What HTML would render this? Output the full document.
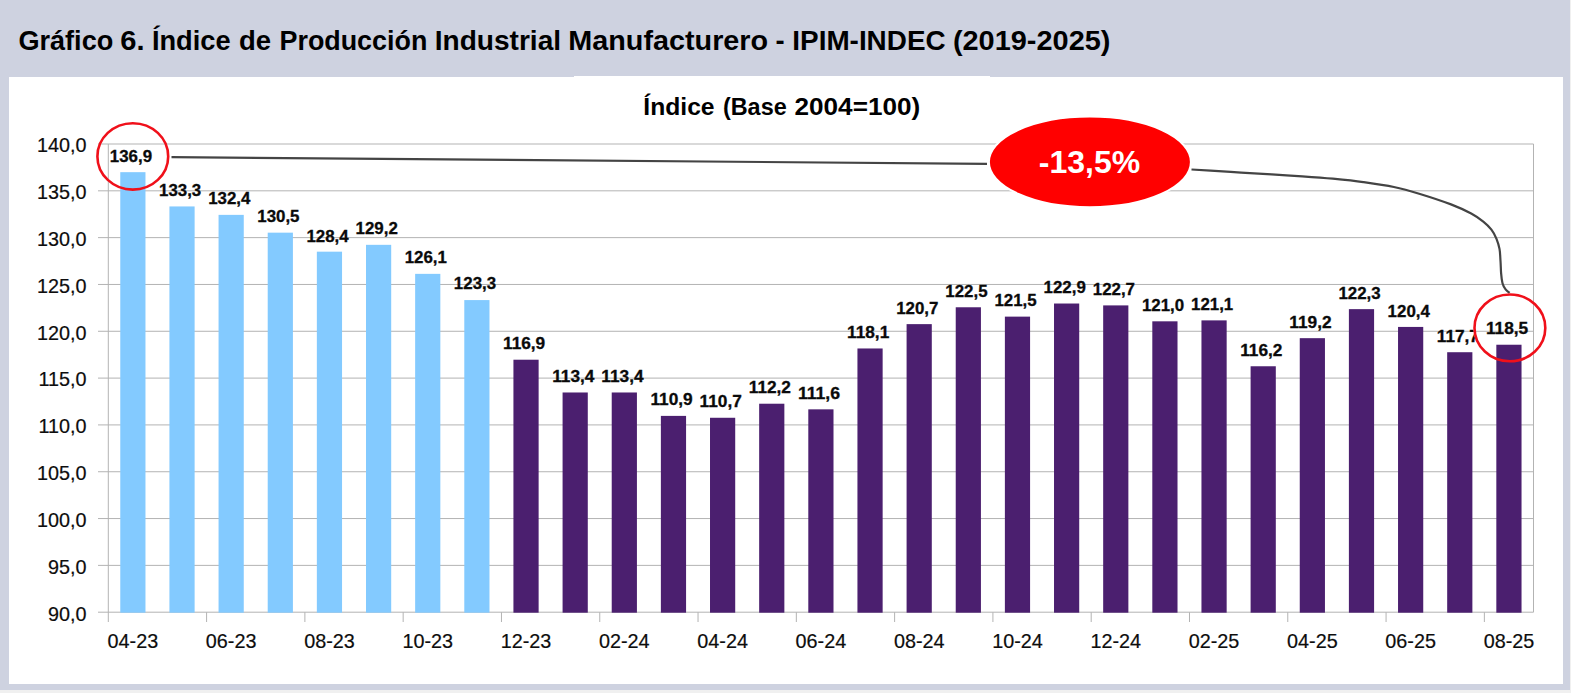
<!DOCTYPE html>
<html lang="es"><head><meta charset="utf-8"><title>Gráfico 6. Índice de Producción Industrial Manufacturero - IPIM-INDEC (2019-2025)</title>
<style>html,body{margin:0;padding:0;background:#ced2e0;overflow:hidden}svg{display:block}text{font-family:"Liberation Sans",sans-serif}.b{font-weight:bold}.ax{font-size:19.8px;fill:#0d0d0d;stroke:#0d0d0d;stroke-width:0.2px}.dl{font-size:16px;font-weight:bold;fill:#0a0a0a;stroke:#0a0a0a;stroke-width:0.3px}</style></head><body>
<svg width="1571" height="693" viewBox="0 0 1571 693">
<rect x="0" y="0" width="1571" height="693" fill="#ced2e0"/>
<rect x="1570" y="0" width="1" height="693" fill="#f0f0f0"/>
<rect x="0" y="690" width="1571" height="3" fill="#f0f0f0"/>
<rect x="9" y="77" width="1554" height="607" fill="#ffffff"/>
<rect x="574" y="76" width="416" height="2" fill="#ffffff"/>
<text class="b" y="49.8" font-size="27" fill="#000"><tspan x="18.4" textLength="94.9" lengthAdjust="spacingAndGlyphs">Gráfico</tspan> <tspan x="120.2" textLength="24.3" lengthAdjust="spacingAndGlyphs">6.</tspan> <tspan x="151.9" textLength="78.7" lengthAdjust="spacingAndGlyphs">Índice</tspan> <tspan x="238.9" textLength="32.1" lengthAdjust="spacingAndGlyphs">de</tspan> <tspan x="279.5" textLength="147.8" lengthAdjust="spacingAndGlyphs">Producción</tspan> <tspan x="434.7" textLength="126.4" lengthAdjust="spacingAndGlyphs">Industrial</tspan> <tspan x="568.3" textLength="199.8" lengthAdjust="spacingAndGlyphs">Manufacturero</tspan> <tspan x="775.6" textLength="9.1" lengthAdjust="spacingAndGlyphs">-</tspan> <tspan x="792.3" textLength="153.3" lengthAdjust="spacingAndGlyphs">IPIM-INDEC</tspan> <tspan x="952.9" textLength="157.6" lengthAdjust="spacingAndGlyphs">(2019-2025)</tspan></text>
<text class="b" y="114.7" font-size="23" fill="#000"><tspan x="643.3" textLength="71.3" lengthAdjust="spacingAndGlyphs">Índice</tspan> <tspan x="722.9" textLength="63.8" lengthAdjust="spacingAndGlyphs">(Base</tspan> <tspan x="794.5" textLength="125.7" lengthAdjust="spacingAndGlyphs">2004=100)</tspan></text>
<g stroke="#b3b3b3" stroke-width="1" fill="none">
<line x1="98" y1="612.2" x2="1533.5" y2="612.2"/>
<line x1="98" y1="565.38" x2="1533.5" y2="565.38"/>
<line x1="98" y1="518.56" x2="1533.5" y2="518.56"/>
<line x1="98" y1="471.74" x2="1533.5" y2="471.74"/>
<line x1="98" y1="424.92" x2="1533.5" y2="424.92"/>
<line x1="98" y1="378.1" x2="1533.5" y2="378.1"/>
<line x1="98" y1="331.28" x2="1533.5" y2="331.28"/>
<line x1="98" y1="284.46" x2="1533.5" y2="284.46"/>
<line x1="98" y1="237.64" x2="1533.5" y2="237.64"/>
<line x1="98" y1="190.82" x2="1533.5" y2="190.82"/>
<line x1="98" y1="144" x2="1533.5" y2="144"/>
<line x1="108.3" y1="144" x2="108.3" y2="622"/>
<line x1="1533.5" y1="144" x2="1533.5" y2="612.2"/>
<line x1="206.59" y1="612.2" x2="206.59" y2="622"/>
<line x1="304.88" y1="612.2" x2="304.88" y2="622"/>
<line x1="403.17" y1="612.2" x2="403.17" y2="622"/>
<line x1="501.46" y1="612.2" x2="501.46" y2="622"/>
<line x1="599.75" y1="612.2" x2="599.75" y2="622"/>
<line x1="698.04" y1="612.2" x2="698.04" y2="622"/>
<line x1="796.33" y1="612.2" x2="796.33" y2="622"/>
<line x1="894.62" y1="612.2" x2="894.62" y2="622"/>
<line x1="992.91" y1="612.2" x2="992.91" y2="622"/>
<line x1="1091.2" y1="612.2" x2="1091.2" y2="622"/>
<line x1="1189.49" y1="612.2" x2="1189.49" y2="622"/>
<line x1="1287.78" y1="612.2" x2="1287.78" y2="622"/>
<line x1="1386.07" y1="612.2" x2="1386.07" y2="622"/>
<line x1="1484.36" y1="612.2" x2="1484.36" y2="622"/>
</g>
<g class="ax" text-anchor="end">
<text x="86.5" y="620.5">90,0</text>
<text x="86.5" y="573.68">95,0</text>
<text x="86.5" y="526.86">100,0</text>
<text x="86.5" y="480.04">105,0</text>
<text x="86.5" y="433.22">110,0</text>
<text x="86.5" y="386.4">115,0</text>
<text x="86.5" y="339.58">120,0</text>
<text x="86.5" y="292.76">125,0</text>
<text x="86.5" y="245.94">130,0</text>
<text x="86.5" y="199.12">135,0</text>
<text x="86.5" y="152.3">140,0</text>
</g>
<g class="ax" text-anchor="middle">
<text x="132.87" y="647.8">04-23</text>
<text x="231.16" y="647.8">06-23</text>
<text x="329.45" y="647.8">08-23</text>
<text x="427.74" y="647.8">10-23</text>
<text x="526.03" y="647.8">12-23</text>
<text x="624.32" y="647.8">02-24</text>
<text x="722.61" y="647.8">04-24</text>
<text x="820.9" y="647.8">06-24</text>
<text x="919.19" y="647.8">08-24</text>
<text x="1017.48" y="647.8">10-24</text>
<text x="1115.77" y="647.8">12-24</text>
<text x="1214.06" y="647.8">02-25</text>
<text x="1312.35" y="647.8">04-25</text>
<text x="1410.64" y="647.8">06-25</text>
<text x="1508.93" y="647.8">08-25</text>
</g>
<g fill="#83caff">
<rect x="120.27" y="172.17" width="25.2" height="440.53"/>
<rect x="169.42" y="206.44" width="25.2" height="406.26"/>
<rect x="218.56" y="214.87" width="25.2" height="397.83"/>
<rect x="267.71" y="232.66" width="25.2" height="380.04"/>
<rect x="316.85" y="251.67" width="25.2" height="361.03"/>
<rect x="366" y="244.83" width="25.2" height="367.87"/>
<rect x="415.14" y="273.86" width="25.2" height="338.84"/>
<rect x="464.29" y="300.08" width="25.2" height="312.62"/>
</g>
<g fill="#4b1f6f">
<rect x="513.43" y="359.71" width="25.2" height="252.99"/>
<rect x="562.58" y="392.48" width="25.2" height="220.22"/>
<rect x="611.72" y="392.48" width="25.2" height="220.22"/>
<rect x="660.87" y="415.89" width="25.2" height="196.81"/>
<rect x="710.01" y="417.77" width="25.2" height="194.93"/>
<rect x="759.16" y="403.72" width="25.2" height="208.98"/>
<rect x="808.3" y="409.34" width="25.2" height="203.36"/>
<rect x="857.44" y="348.47" width="25.2" height="264.23"/>
<rect x="906.59" y="324.13" width="25.2" height="288.57"/>
<rect x="955.73" y="307.27" width="25.2" height="305.43"/>
<rect x="1004.88" y="316.63" width="25.2" height="296.07"/>
<rect x="1054.02" y="303.52" width="25.2" height="309.18"/>
<rect x="1103.17" y="305.4" width="25.2" height="307.3"/>
<rect x="1152.31" y="321.32" width="25.2" height="291.38"/>
<rect x="1201.46" y="320.38" width="25.2" height="292.32"/>
<rect x="1250.6" y="366.26" width="25.2" height="246.44"/>
<rect x="1299.75" y="338.17" width="25.2" height="274.53"/>
<rect x="1348.89" y="309.14" width="25.2" height="303.56"/>
<rect x="1398.04" y="326.93" width="25.2" height="285.77"/>
<rect x="1447.18" y="352.22" width="25.2" height="260.48"/>
<rect x="1496.33" y="344.73" width="25.2" height="267.97"/>
</g>
<defs><clipPath id="c"><path d="M0 0H1571V693H0Z M1509.9 293.3 a36.6 34.6 0 1 0 0.01 0Z" clip-rule="evenodd"/></clipPath></defs>
<g class="dl">
<text x="109.87" y="162.03" textLength="42.2" lengthAdjust="spacingAndGlyphs">136,9</text>
<text x="159.02" y="195.74" textLength="42.2" lengthAdjust="spacingAndGlyphs">133,3</text>
<text x="208.16" y="204.17" textLength="42.2" lengthAdjust="spacingAndGlyphs">132,4</text>
<text x="257.31" y="221.96" textLength="42.2" lengthAdjust="spacingAndGlyphs">130,5</text>
<text x="306.45" y="241.62" textLength="42.2" lengthAdjust="spacingAndGlyphs">128,4</text>
<text x="355.6" y="234.13" textLength="42.2" lengthAdjust="spacingAndGlyphs">129,2</text>
<text x="404.74" y="263.16" textLength="42.2" lengthAdjust="spacingAndGlyphs">126,1</text>
<text x="453.89" y="289.38" textLength="42.2" lengthAdjust="spacingAndGlyphs">123,3</text>
<text x="503.03" y="349.31" textLength="42.2" lengthAdjust="spacingAndGlyphs">116,9</text>
<text x="552.18" y="382.08" textLength="42.2" lengthAdjust="spacingAndGlyphs">113,4</text>
<text x="601.32" y="382.08" textLength="42.2" lengthAdjust="spacingAndGlyphs">113,4</text>
<text x="650.47" y="405.49" textLength="42.2" lengthAdjust="spacingAndGlyphs">110,9</text>
<text x="699.61" y="407.37" textLength="42.2" lengthAdjust="spacingAndGlyphs">110,7</text>
<text x="748.76" y="393.32" textLength="42.2" lengthAdjust="spacingAndGlyphs">112,2</text>
<text x="797.9" y="398.94" textLength="42.2" lengthAdjust="spacingAndGlyphs">111,6</text>
<text x="847.04" y="338.07" textLength="42.2" lengthAdjust="spacingAndGlyphs">118,1</text>
<text x="896.19" y="313.73" textLength="42.2" lengthAdjust="spacingAndGlyphs">120,7</text>
<text x="945.33" y="296.87" textLength="42.2" lengthAdjust="spacingAndGlyphs">122,5</text>
<text x="994.48" y="306.23" textLength="42.2" lengthAdjust="spacingAndGlyphs">121,5</text>
<text x="1043.62" y="293.12" textLength="42.2" lengthAdjust="spacingAndGlyphs">122,9</text>
<text x="1092.77" y="295" textLength="42.2" lengthAdjust="spacingAndGlyphs">122,7</text>
<text x="1141.91" y="310.92" textLength="42.2" lengthAdjust="spacingAndGlyphs">121,0</text>
<text x="1191.06" y="309.98" textLength="42.2" lengthAdjust="spacingAndGlyphs">121,1</text>
<text x="1240.2" y="355.86" textLength="42.2" lengthAdjust="spacingAndGlyphs">116,2</text>
<text x="1289.35" y="327.77" textLength="42.2" lengthAdjust="spacingAndGlyphs">119,2</text>
<text x="1338.49" y="298.74" textLength="42.2" lengthAdjust="spacingAndGlyphs">122,3</text>
<text x="1387.64" y="316.53" textLength="42.2" lengthAdjust="spacingAndGlyphs">120,4</text>
<text x="1436.78" y="341.82" textLength="42.2" lengthAdjust="spacingAndGlyphs" clip-path="url(#c)">117,7</text>
<text x="1485.93" y="334.33" textLength="42.2" lengthAdjust="spacingAndGlyphs">118,5</text>
</g>
<g stroke="#444444" stroke-width="2.2" fill="none" stroke-linecap="butt">
<path d="M171.5 157.2 L987 163.8"/>
<path d="M1191.5 169.5 C1194.7 169.7 1202.3 170.1 1210.6 170.6 C1218.9 171.1 1230.9 172.0 1241.1 172.6 C1251.3 173.2 1261.5 173.8 1271.7 174.4 C1281.9 175.0 1292.0 175.6 1302.2 176.3 C1312.4 177.0 1322.6 177.7 1332.8 178.7 C1343.0 179.7 1353.1 180.7 1363.3 182.1 C1373.5 183.5 1384.5 185.0 1393.9 187 C1403.4 189.0 1410.5 191.1 1420 194 C1429.5 196.9 1442.5 201.2 1451 204.4 C1459.5 207.7 1465.8 210.6 1471.2 213.5 C1476.6 216.4 1479.9 218.9 1483.3 221.6 C1486.7 224.3 1489.2 226.8 1491.4 229.7 C1493.6 232.6 1495.2 235.6 1496.5 238.8 C1497.8 242.0 1498.8 245.2 1499.5 248.9 C1500.2 252.6 1500.2 257.0 1500.5 261 C1500.8 265.0 1500.8 269.4 1501.1 273.1 C1501.4 276.8 1501.8 280.5 1502.5 283.2 C1503.2 285.9 1504.4 287.7 1505.6 289.3 C1506.8 290.9 1508.9 292.3 1509.6 292.9"/>
</g>
<ellipse cx="132.8" cy="156.4" rx="35.4" ry="33.2" fill="none" stroke="#f0101a" stroke-width="2.6"/>
<ellipse cx="1509.9" cy="327.9" rx="35.4" ry="33.4" fill="none" stroke="#f0101a" stroke-width="2.6"/>
<ellipse cx="1089.9" cy="161.9" rx="101" ry="45.3" fill="#ff0000" stroke="#ffffff" stroke-width="2"/>
<text class="b" x="1089.5" y="173.2" font-size="32" text-anchor="middle" fill="#ffffff">-13,5%</text>
</svg></body></html>
